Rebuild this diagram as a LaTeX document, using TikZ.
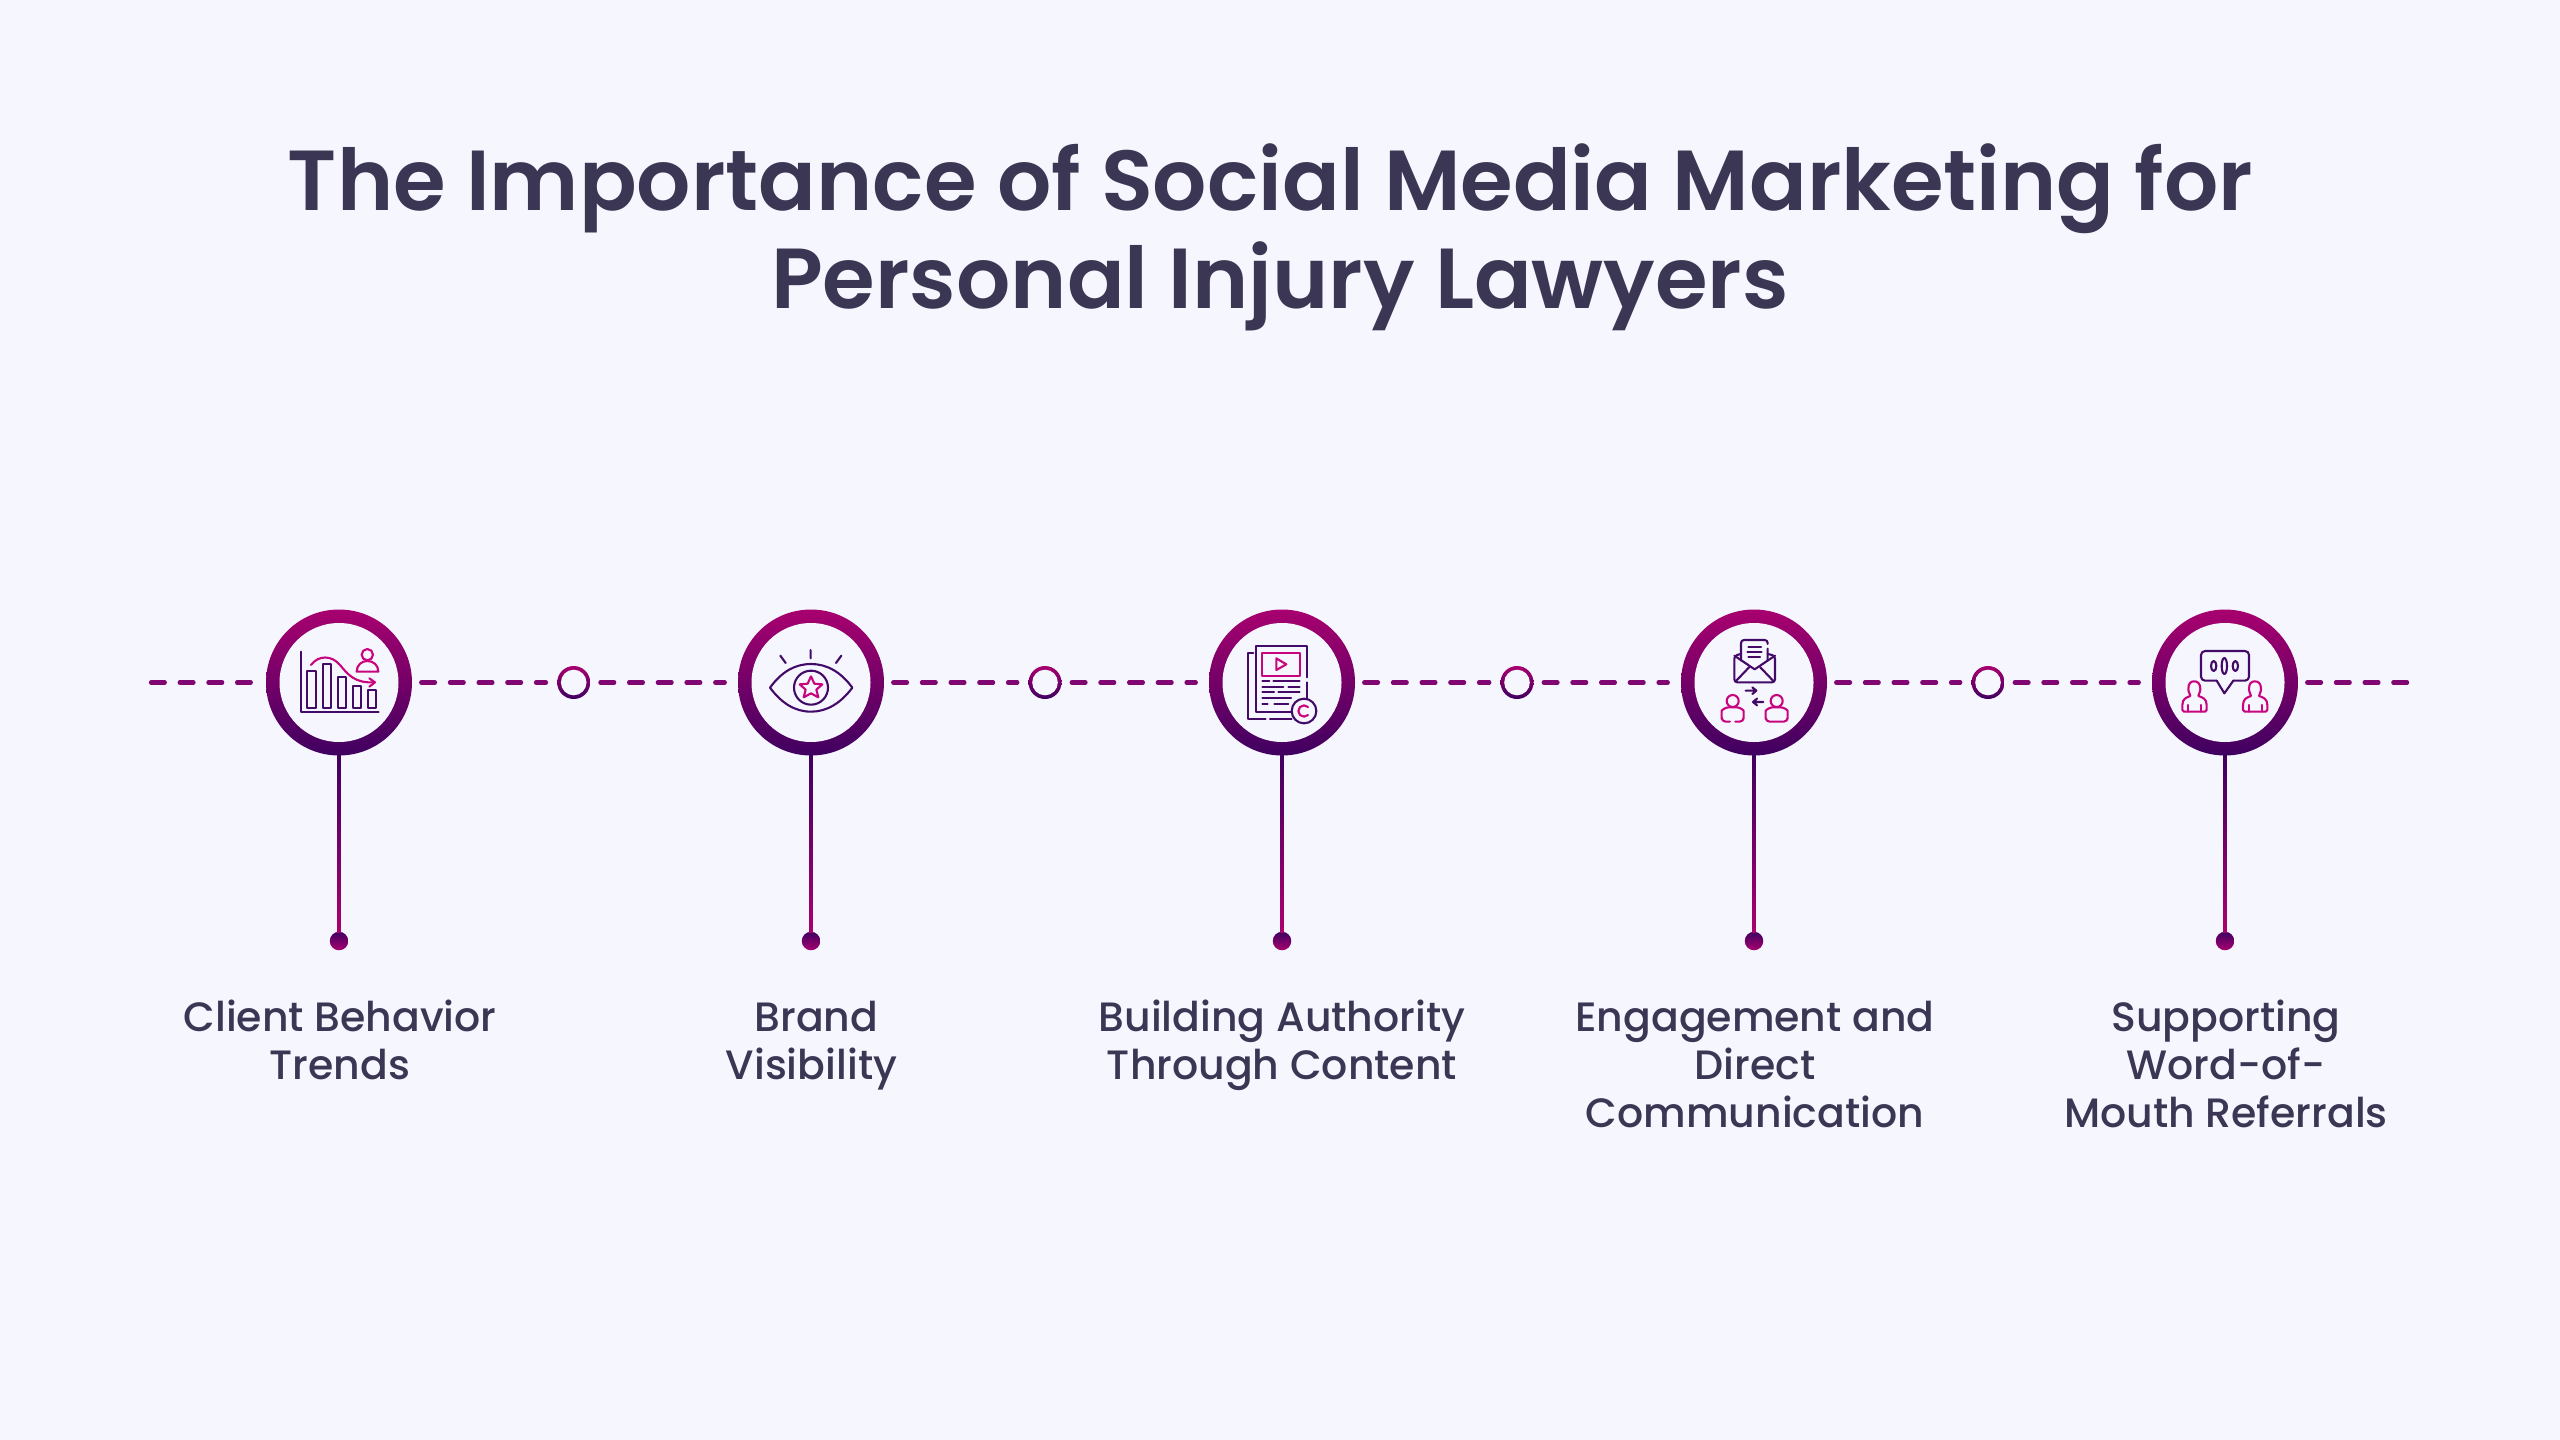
\documentclass[tikz,border=0pt]{standalone}
\usepackage{fontspec}
\setmainfont{Poppins}
\newfontfamily\titlefont{Poppins SemiBold}
\newfontfamily\labelfont{Poppins Medium}
\usetikzlibrary{calc,arrows.meta,shapes.geometric}
\definecolor{bgc}{HTML}{F5F6FE}
\definecolor{ink}{HTML}{3A3654}
\definecolor{gmag}{HTML}{A8006F}
\definecolor{gdark}{HTML}{3F0060}
\definecolor{gmid}{HTML}{800672}
\definecolor{icd}{HTML}{430A68}
\definecolor{icp}{HTML}{C8047F}
\newcommand{\lstrut}{\rule{0pt}{40pt}}
\tikzset{
  ringnode/.style={circle,inner sep=0pt,minimum size=146pt,path picture={
    \shade[top color=gmag,bottom color=gdark,shading angle=0]
      (path picture bounding box.south west) rectangle (path picture bounding box.north east);
    \fill[bgc] (path picture bounding box.center) circle (59.5pt);}},
  smallnode/.style={circle,inner sep=0pt,minimum size=33pt,path picture={
    \shade[top color=gmag,bottom color=gdark]
      (path picture bounding box.south west) rectangle (path picture bounding box.north east);
    \fill[bgc] (path picture bounding box.center) circle (12.8pt);}},
  dotnode/.style={circle,inner sep=0pt,minimum size=18.5pt,path picture={
    \shade[top color=gdark,bottom color=gmag]
      (path picture bounding box.south west) rectangle (path picture bounding box.north east);}},
  dashline/.style={draw=gmid,line width=4.2pt,line cap=round,dash pattern=on 13.8pt off 14.9pt},
  stem/.style={draw=gmid,line width=3.3pt},
  labeltext/.style={font=\labelfont\fontsize{41}{47.7}\selectfont,text=ink,align=center,inner sep=0pt,anchor=north},
  titletext/.style={font=\titlefont\fontsize{85.2}{98}\selectfont,text=ink,align=center,inner sep=0pt,anchor=north},
  dk/.style={draw=icd,line width=2.1pt,line cap=round,line join=round},
  pk/.style={draw=icp,line width=2.1pt,line cap=round,line join=round},
  icon/.style={x=0.33333pt,y=-0.33333pt}
}
\begin{document}
\begin{tikzpicture}[x=1pt,y=-1pt]
\useasboundingbox (0,0) rectangle (2560,1440);
\fill[bgc] (0,0) rectangle (2560,1440);
\node[titletext] (title) at (1280,120) {\rule{0pt}{90pt}The Importance of Social Media Marketing for\hspace*{19pt}\\Personal Injury Lawyers};

\foreach \n/\x in {1/339,2/811,3/1282,4/1754,5/2225}{
  \node[ringnode] (c\n) at (\x,682.5) {};
  \node[dotnode] (d\n) at (\x,941) {};
  \draw[stem] (c\n.south) -- (d\n.north);
  \shade[top color=gdark,bottom color=gmag] ($(c\n.south)+(-1.65,-1)$) rectangle ($(d\n.north)+(1.65,-4)$);
  \fill[gmag] ($(d\n.north)+(-1.65,-4.5)$) rectangle ($(d\n.north)+(1.65,1)$);
}
\foreach \n/\x in {1/573.7,2/1045,3/1517,4/1988}{
  \node[smallnode] (s\n) at (\x,682.5) {};
}
\coordinate (le) at (151,682.5);
\coordinate (re) at (2408,682.5);
\draw[dashline] (le) -- ($(c1.west)+(-15,0)$);
\foreach \a/\b in {c1/s1,c2/s2,c3/s3,c4/s4}{
  \draw[dashline] ($(\a.east)+(9,0)$) -- ($(\b.west)+(-11,0)$);
}
\foreach \a/\b in {s1/c2,s2/c3,s3/c4,s4/c5}{
  \draw[dashline] ($(\a.east)+(10,0)$) -- ($(\b.west)+(-13,0)$);
}
\draw[dashline] ($(c5.east)+(9,0)$) -- (re);

\node[labeltext] (l1) at (340,991.5) {\lstrut Client Behavior\\Trends};
\node[labeltext] (l2) at (811.5,991.5) {\lstrut\hspace*{10pt}Brand\\Visibility};
\node[labeltext] (l3) at (1282,991.5) {\lstrut Building Authority\\Through Content};
\node[labeltext] (l4) at (1755,991.5) {\lstrut Engagement and\\Direct\\Communication};
\node[labeltext] (l5) at (2226,991.5) {\lstrut Supporting\\Word-of-\\Mouth Referrals};

% icon 1
\begin{scope}[shift={(240,590)},icon]
\draw[dk] (182,185) -- (182,367) -- (416,367);
\foreach \a/\b/\t in {202/227/243,249/273/222,294/318/261,339/363/288,385/409/300}
  \draw[dk] (\a,\t) rectangle (\b,353);
\draw[pk] (213,225) .. controls (235,195) and (275,195) .. (300,225) .. controls (325,255) and (345,280) .. (403,277);
\draw[pk] (388,265) -- (405,277) -- (388,290);
\draw[pk] (382,194) circle (17);
\draw[pk] (350,245) .. controls (350,225) and (365,213) .. (382,213) .. controls (400,213) and (415,225) .. (415,245) -- cycle;
\end{scope}
% icon 2
\begin{scope}[shift={(710,590)},icon]
\draw[dk] (180,293) .. controls (215,245) and (255,222) .. (303,222) .. controls (350,222) and (392,245) .. (427,293) .. controls (392,340) and (350,365) .. (303,365) .. controls (255,365) and (215,340) .. (180,293) -- cycle;
\draw[dk] (303,293) circle (51);
\draw[pk] (303,259) -- (313,281) -- (337,283) -- (319,299) -- (325,322) -- (303,310) -- (281,322) -- (287,299) -- (269,283) -- (293,281) -- cycle;
\draw[dk] (302,180) -- (302,205) (211,197) -- (227,219) (394,197) -- (378,219);
\end{scope}
% icon 3
\begin{scope}[shift={(1180,590)},icon]
\draw[dk] (220,188) -- (204,188) -- (204,387) -- (257,387) (270,387) -- (335,387);
\draw[dk] (335,365) -- (228,365) -- (228,167) -- (380,167) -- (380,262) (380,277) -- (380,325);
\draw[pk] (247,188) rectangle (359,257);
\draw[pk] (289,205) -- (319,223) -- (289,240) -- cycle;
\draw[dk] (247,272) -- (268,272) (280,272) -- (359,272);
\draw[dk] (247,291) -- (310,291) (325,291) -- (359,291);
\draw[dk] (247,307) -- (282,307) (295,307) -- (359,307);
\draw[dk] (247,324) -- (333,324);
\draw[dk] (247,342) -- (263,342) (283,342) -- (325,342);
\draw[dk] (372,363) circle (37);
\draw[pk] ($(372,363)+(45:17)$) arc[start angle=45,end angle=315,radius=17];
\end{scope}
% icon 4
\begin{scope}[shift={(1655,590)},icon]
\draw[dk,rounded corners=3pt] (258,192) -- (238,197) -- (238,277) -- (360,277) -- (360,197) -- (338,192);
\draw[dk] (238,197) -- (299,238) -- (360,197);
\draw[dk] (242,274) -- (283,231) (356,274) -- (315,231);
\draw[dk,rounded corners=3pt] (258,212) -- (258,150) -- (338,150) -- (338,162) (338,176) -- (338,212);
\draw[dk] (280,172) -- (318,172) (277,187) -- (320,187) (280,202) -- (315,202);
\draw[dk] (272,302) -- (304,302) (292,292) -- (304,302) -- (292,312);
\draw[dk] (325,336) -- (294,336) (306,326) -- (294,336) -- (306,346);
\draw[pk] (233,333) circle (18);
\draw[pk,rounded corners=4pt] (225,395) -- (200,395) -- (200,375) .. controls (200,360) and (212,352) .. (233,352) .. controls (254,352) and (266,360) .. (266,375) -- (266,395) -- (241,395);
\draw[pk] (365,333) circle (18);
\draw[pk,rounded corners=4pt] (332,395) -- (332,375) .. controls (332,360) and (344,352) .. (365,352) .. controls (386,352) and (398,360) .. (398,375) -- (398,395) -- cycle;
\end{scope}
% icon 5
\begin{scope}[shift={(2125,590)},icon]
\draw[dk,rounded corners=4pt] (275,272) -- (228,272) -- (228,183) -- (372,183) -- (372,272) -- (325,272);
\draw[dk] (275,272) -- (298,310) -- (325,272);
\draw[dk] (266,228) ellipse [x radius=8,y radius=15];
\draw[dk] (298,228) ellipse [x radius=8,y radius=24];
\draw[dk] (331,228) ellipse [x radius=8,y radius=15];
\foreach \dx in {0,182}{
\begin{scope}[shift={(\dx,0)}]
\draw[pk] (190,297) .. controls (190,280) and (197,274) .. (207,274) .. controls (218,274) and (226,280) .. (226,297) .. controls (226,308) and (220,312) .. (220,318) .. controls (232,322) and (245,326) .. (245,345) -- (245,360) -- (240,365) -- (177,365) -- (172,360) -- (172,345) .. controls (172,326) and (185,322) .. (196,318) .. controls (196,312) and (190,308) .. (190,297) -- cycle;
\draw[pk] (190,345) -- (190,365) (228,345) -- (228,365);
\end{scope}}
\end{scope}
\end{tikzpicture}
\end{document}
